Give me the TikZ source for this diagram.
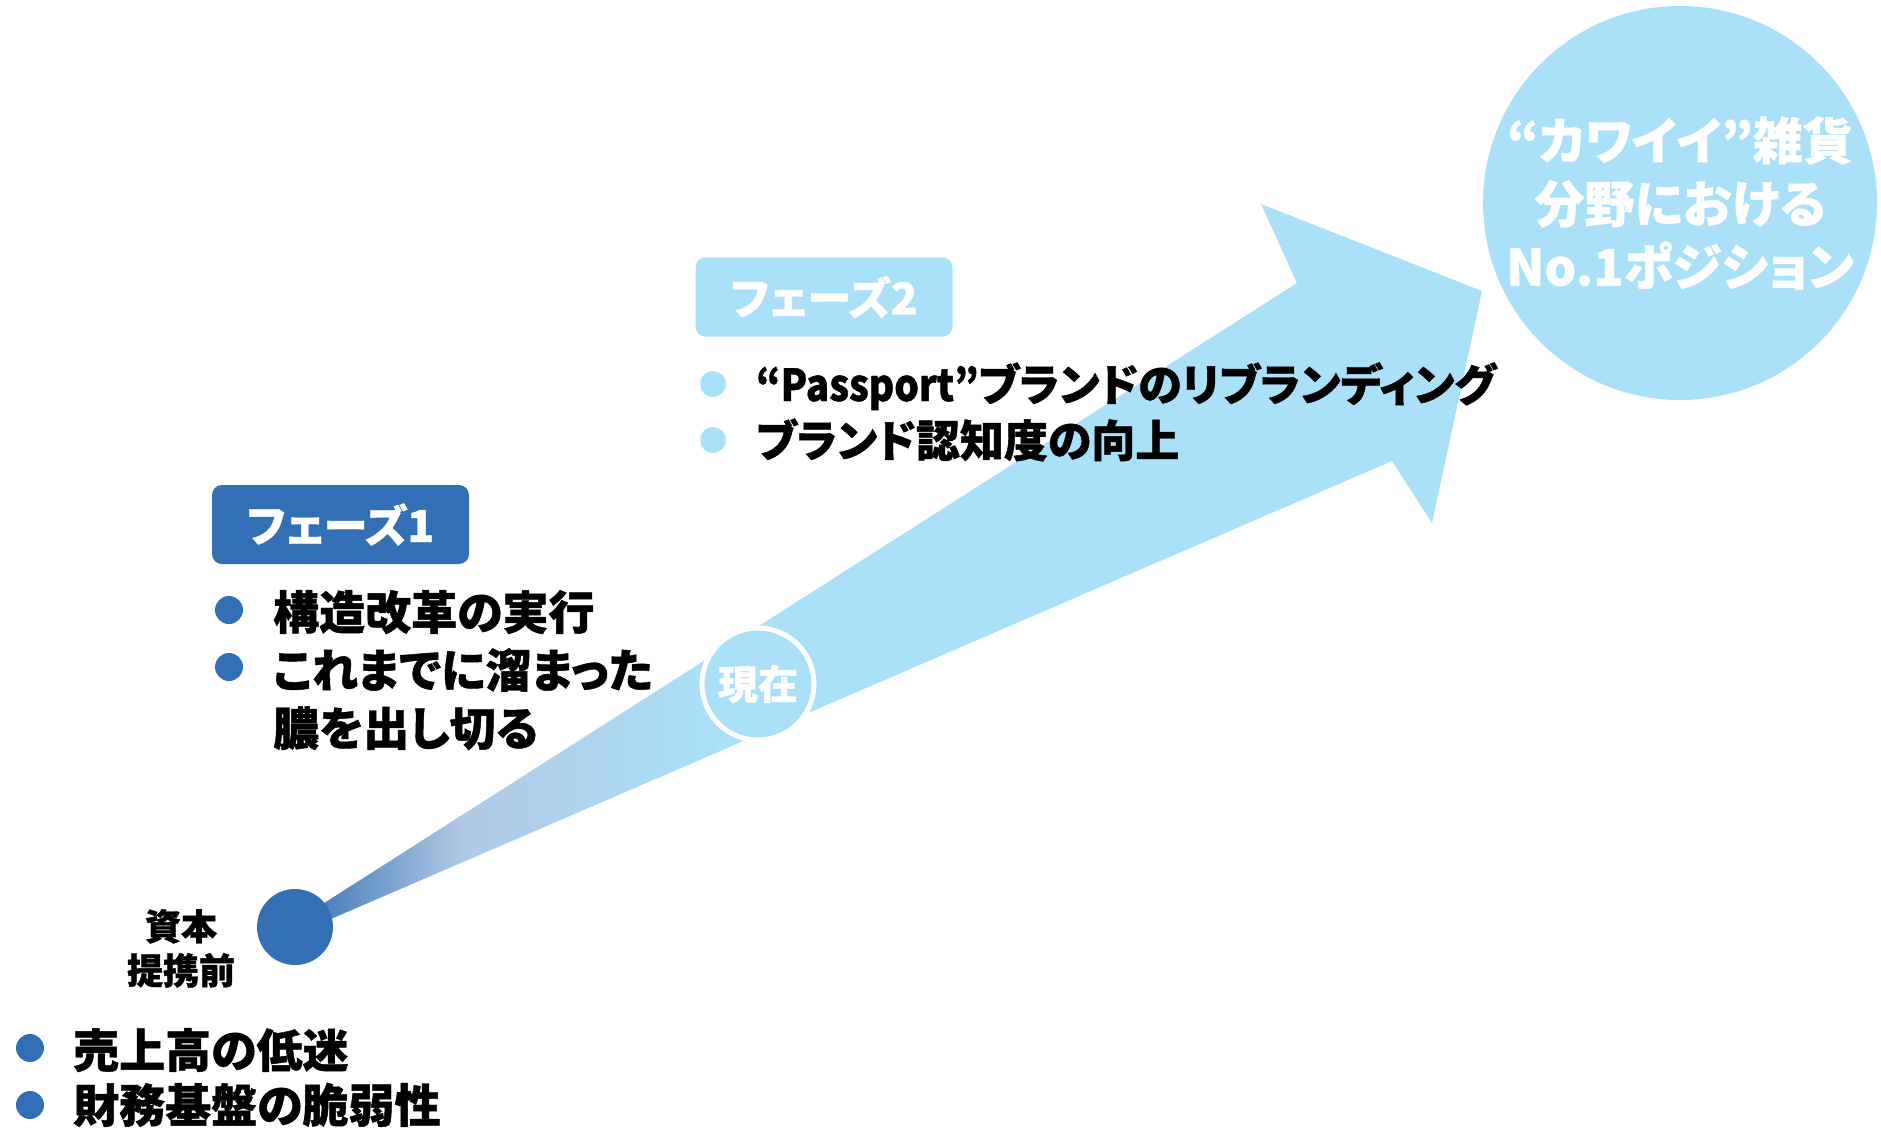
\documentclass[tikz,border=0pt]{standalone}
\usepackage{fontspec}
\setmainfont{Noto Sans CJK JP}[RawFeature=+palt,BoldFeatures={FakeBold=1}]
\usepackage{tikz}

\definecolor{phaseblue}{RGB}{51,111,180}
\definecolor{skyblue}{RGB}{171,224,249}
\definecolor{fadeblue}{RGB}{176,200,228}

\tikzset{
  bullet/.style={circle,inner sep=0pt,minimum size=28pt},
  item/.style={anchor=base west,inner sep=0pt,align=left,font=\fontsize{46}{58}\selectfont\bfseries},
  phasebox/.style={rounded corners=10pt,inner sep=0pt,minimum width=257pt,minimum height=79pt,
    text=white,font=\fontsize{44}{50}\selectfont\bfseries},
}

\begin{document}
\begin{tikzpicture}[x=1pt,y=-1pt]
  \useasboundingbox (0,0) rectangle (1881,1128);

  % the arrow
  \coordinate (s1) at (296,921);
  \coordinate (s2) at (296,934);
  \coordinate (n1) at (1297,283);
  \coordinate (b1) at (1261,204);
  \coordinate (tip) at (1482,291);
  \coordinate (b2) at (1432,523);
  \coordinate (n2) at (1392,461);
  \fill[skyblue] (s1) -- (n1) -- (b1) -- (tip) -- (b2) -- (n2) -- (s2) -- cycle;
  \begin{scope}
    \clip (s1) -- (n1) -- (b1) -- (tip) -- (b2) -- (n2) -- (s2) -- cycle;
    \shade[left color=phaseblue,right color=fadeblue] (290,500) rectangle (461,1000);
    \shade[left color=fadeblue,right color=skyblue] (460,500) rectangle (720,1000);
  \end{scope}

  \node[circle,fill=phaseblue,minimum size=76pt,inner sep=0pt] (start) at (295,927) {};
  \node[circle,fill=skyblue,draw=white,line width=5pt,minimum size=112pt,inner sep=0pt,
    text=white,font=\fontsize{40}{40}\selectfont\bfseries] (now) at (758,684) {現在};
  \node[circle,fill=skyblue,minimum size=394pt,inner sep=0pt,text=white,align=center,
    font=\fontsize{50}{63}\selectfont\bfseries] (goal) at (1680,203) {“カワイイ”雑貨\\分野における\\No.1ポジション};

  \node[align=center,inner sep=0pt,anchor=base,font=\fontsize{36}{44}\selectfont\bfseries] (before) at (181,984) {資本\\提携前};

  % phase 1
  \node[phasebox,fill=phaseblue] (phase1) at (340.5,524.5) {フェーズ1};
  \node[bullet,fill=phaseblue] (p1a) at (229,610) {};
  \node[item] (p1atext) at (273,629.5) {構造改革の実行};
  \node[bullet,fill=phaseblue] (p1b) at (229,667) {};
  \node[item] (p1btext) at (273,745.5) {これまでに溜まった\\膿を出し切る};

  % phase 2
  \node[phasebox,fill=skyblue] (phase2) at (824,297) {フェーズ2};
  \node[bullet,fill=skyblue,minimum size=26pt] (p2a) at (713,384) {};
  \node[item,font=\fontsize{44}{56}\selectfont\bfseries] (p2atext) at (756,401) {\scalebox{0.88}[1]{“Passport”}ブランドのリブランディング};
  \node[bullet,fill=skyblue,minimum size=26pt] (p2b) at (713,440) {};
  \node[item,font=\fontsize{44}{56}\selectfont\bfseries] (p2btext) at (756,457) {ブランド認知度の向上};

  % before
  \node[bullet,fill=phaseblue] (p0a) at (30,1048) {};
  \node[item] (p0atext) at (73,1067.5) {売上高の低迷};
  \node[bullet,fill=phaseblue] (p0b) at (30,1105) {};
  \node[item] (p0btext) at (73,1122.5) {財務基盤の脆弱性};
\end{tikzpicture}
\end{document}
